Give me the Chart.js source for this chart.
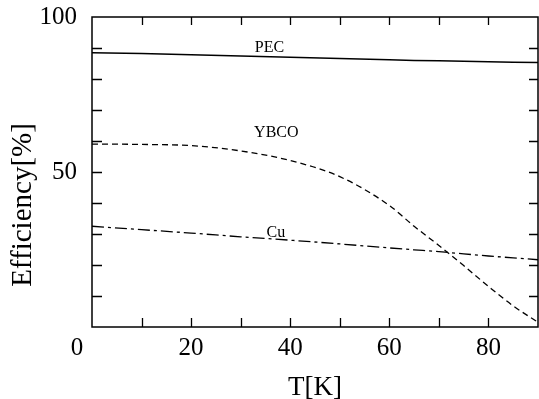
<!DOCTYPE html>
<html><head><meta charset="utf-8">
<script src="https://cdn.jsdelivr.net/npm/chart.js@4/dist/chart.umd.min.js"></script>
<style>html,body{margin:0;padding:0;background:#fff;}#wrap{width:539px;height:399px;}</style>
</head><body><div id="wrap"><canvas id="c" width="539" height="399"></canvas></div>
<script>
// ---- data ----
const temperatureK = [0, 10, 20, 30, 40, 50, 60, 65, 70, 75, 80, 85, 90];
const pecEff  = [88.5, 88.2, 87.8, 87.4, 87.0, 86.6, 86.2, 86.0, 85.9, 85.7, 85.6, 85.4, 85.3];
const ybcoEff = [59.0, 58.9, 58.5, 56.8, 53.7, 48.5, 39.2, 32.5, 26.3, 19.8, 13.1, 6.8, 1.5];
const cuEff   = [32.5, 31.4, 30.3, 29.1, 28.0, 26.8, 25.5, 24.9, 24.3, 23.6, 22.9, 22.3, 21.7];
const xTickValues = [0, 20, 40, 60, 80];
const yTickValues = [50, 100];
const xMinorTicks = [10, 20, 30, 40, 50, 60, 70, 80];
const yMinorTicks = [10, 20, 30, 40, 50, 60, 70, 80, 90];
const seriesNames = ['PEC', 'YBCO', 'Cu'];
const seriesLabelAnchors = [[35.8, 90.6], [37.2, 63.1], [37.1, 30.8]];
const xTitle = 'T[K]';
const yTitle = 'Efficiency[%]';

const SERIF = "'Liberation Serif', 'DejaVu Serif', serif";
const toXY = arr => temperatureK.map((t, i) => ({x: t, y: arr[i]}));

const framePlugin = {
  id: 'frame',
  afterDraw(chart) {
    const ctx = chart.ctx;
    const {left, right, top, bottom} = chart.chartArea;
    const xs = chart.scales.x, ys = chart.scales.y;
    ctx.save();
    ctx.strokeStyle = '#000';
    ctx.lineWidth = 1.5;
    ctx.strokeRect(left, top, right - left, bottom - top);
    ctx.lineWidth = 1.3;
    ctx.beginPath();
    xMinorTicks.forEach(v => {
      const px = Math.round(xs.getPixelForValue(v)) + 0.5;
      ctx.moveTo(px, bottom); ctx.lineTo(px, bottom - 9);
      ctx.moveTo(px, top); ctx.lineTo(px, top + 8);
    });
    yMinorTicks.forEach(v => {
      const py = Math.round(ys.getPixelForValue(v)) + 0.5;
      ctx.moveTo(left, py); ctx.lineTo(left + 10, py);
      ctx.moveTo(right, py); ctx.lineTo(right - 9, py);
    });
    ctx.stroke();
    ctx.fillStyle = '#000';
    // origin "0" label, offset left of the axis as in the reference
    ctx.font = '25px ' + SERIF;
    ctx.textAlign = 'center';
    ctx.textBaseline = 'middle';
    ctx.fillText(String(xTickValues[0]), left - 15, bottom + 21);
    // y title
    ctx.save();
    ctx.translate(23, 205);
    ctx.rotate(-Math.PI / 2);
    ctx.font = '29px ' + SERIF;
    ctx.textAlign = 'center';
    ctx.textBaseline = 'middle';
    ctx.fillText(yTitle, 0, 0);
    ctx.restore();
    // series labels
    ctx.font = '16px ' + SERIF;
    ctx.textAlign = 'center';
    ctx.textBaseline = 'alphabetic';
    seriesNames.forEach((n, i) => {
      const [tx, ty] = seriesLabelAnchors[i];
      ctx.fillText(n, xs.getPixelForValue(tx), ys.getPixelForValue(ty) + 5.5);
    });
    ctx.restore();
  }
};

new Chart(document.getElementById('c'), {
  type: 'line',
  data: {
    datasets: [
      {label: seriesNames[0], data: toXY(pecEff), borderColor: '#000', borderWidth: 1.5, pointRadius: 0, tension: 0, fill: false},
      {label: seriesNames[1], data: toXY(ybcoEff), borderColor: '#000', borderWidth: 1.3, borderDash: [6, 4], pointRadius: 0, cubicInterpolationMode: 'monotone', fill: false},
      {label: seriesNames[2], data: toXY(cuEff), borderColor: '#000', borderWidth: 1.3, borderDash: [12, 4, 3, 4], pointRadius: 0, cubicInterpolationMode: 'monotone', fill: false}
    ]
  },
  options: {
    responsive: false,
    animation: false,
    devicePixelRatio: 1,
    layout: {padding: {top: 17, right: 1, left: 0, bottom: 0}},
    plugins: {legend: {display: false}, tooltip: {enabled: false}},
    scales: {
      x: {
        type: 'linear', min: 0, max: 90,
        grid: {display: false, drawTicks: false}, border: {display: false},
        afterBuildTicks: s => { s.ticks = xTickValues.filter(v => v !== 0).map(v => ({value: v})); },
        ticks: {font: {family: SERIF, size: 25}, color: '#000', padding: 6, maxRotation: 0, autoSkip: false},
        title: {display: true, text: xTitle, font: {family: SERIF, size: 27}, color: '#000', padding: {top: 0, bottom: -5}},
        afterFit: s => { s.height = 72; s.paddingLeft = 0; s.paddingRight = 0; }
      },
      y: {
        type: 'linear', min: 0, max: 100,
        grid: {display: false, drawTicks: false}, border: {display: false},
        afterBuildTicks: s => { s.ticks = yTickValues.map(v => ({value: v})); },
        ticks: {font: {family: SERIF, size: 25}, color: '#000', padding: 15, autoSkip: false},
        afterFit: s => { s.width = 92; s.paddingTop = 0; s.paddingBottom = 0; }
      }
    }
  },
  plugins: [framePlugin]
});
</script>
</body></html>
